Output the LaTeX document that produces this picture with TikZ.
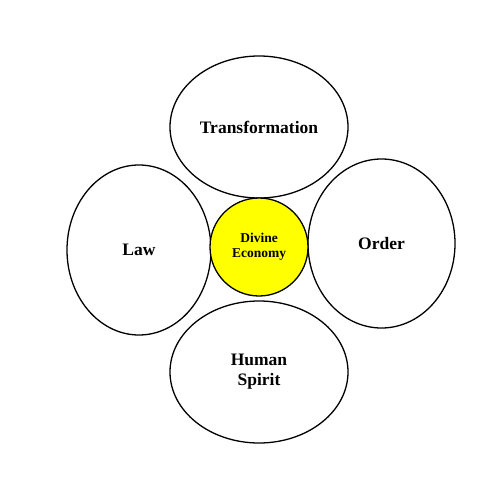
\documentclass[tikz,border=0pt]{standalone}
\usepackage{fontspec}
\setmainfont{Liberation Serif}
\usepackage{xcolor}
\definecolor{cyel}{HTML}{FFFF00}
\usetikzlibrary{shapes.geometric}

\begin{document}
\begin{tikzpicture}[
  x=1pt, y=-1pt, line width=1.3pt,
  petal/.style={ellipse, draw=black, fill=white, inner sep=0pt, align=center,
    font=\fontsize{17.5}{20}\selectfont\bfseries},
  core/.style={circle, draw=black, fill=cyel, minimum size=98pt, inner sep=0pt,
    align=center, font=\fontsize{13.5}{15}\selectfont\bfseries},
]
  \useasboundingbox (0,0) rectangle (500,500);
  \node[petal, minimum width=178pt, minimum height=142pt] (trans) at (259,127) {Transformation};
  \node[petal, minimum width=144pt, minimum height=170pt] (law) at (139,250) {Law};
  \node[petal, minimum width=147pt, minimum height=169pt] (order) at (381.5,243.5) {Order};
  \node[petal, minimum width=178pt, minimum height=142pt] (spirit) at (259,372) {Human\\Spirit};
  \node[core] (divine) at (259,247) {Divine\\Economy};
\end{tikzpicture}
\end{document}
